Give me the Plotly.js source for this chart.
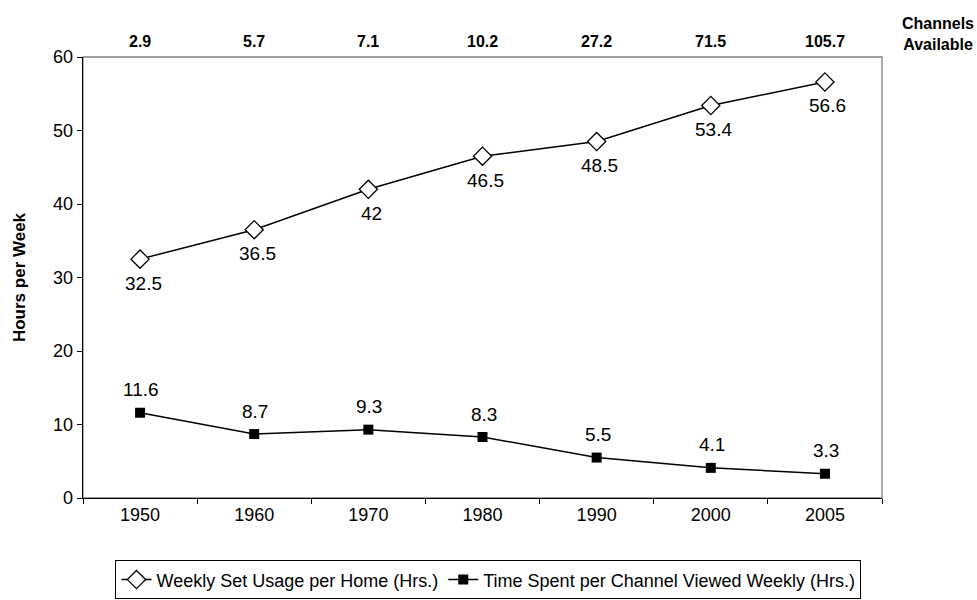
<!DOCTYPE html>
<html>
<head>
<meta charset="utf-8">
<script src="https://cdn.plot.ly/plotly-3.0.1.min.js"></script>
<style>html,body{margin:0;padding:0;background:#fff;}#chart{width:977px;height:600px;}</style>
</head>
<body>
<div id="chart"></div>
<script>
const years = ['1950', '1960', '1970', '1980', '1990', '2000', '2005'];
const setUsage = [32.5, 36.5, 42, 46.5, 48.5, 53.4, 56.6];
const perChannel = [11.6, 8.7, 9.3, 8.3, 5.5, 4.1, 3.3];
const channels = ['2.9', '5.7', '7.1', '10.2', '27.2', '71.5', '105.7'];

const font = 'Liberation Sans, Arial, sans-serif';
const labelSize = 19;

const traces = [
  {
    x: years, y: setUsage, name: 'Weekly Set Usage per Home (Hrs.)',
    type: 'scatter', mode: 'lines+markers',
    line: {color: '#000', width: 1.5},
    marker: {symbol: 'diamond', size: 14, color: '#fff', line: {color: '#000', width: 1.3}},
    cliponaxis: false
  },
  {
    x: years, y: perChannel, name: 'Time Spent per Channel Viewed Weekly (Hrs.)',
    type: 'scatter', mode: 'lines+markers',
    line: {color: '#000', width: 1.5},
    marker: {symbol: 'square', size: 10, color: '#000'},
    cliponaxis: false
  }
];

const annotations = [];
// data labels
setUsage.forEach((v, i) => annotations.push({
  x: i, y: v, xref: 'x', yref: 'y', yshift: -24, xshift: 3, showarrow: false,
  text: String(v), font: {family: font, size: labelSize, color: '#000'}
}));
perChannel.forEach((v, i) => annotations.push({
  x: i, y: v, xref: 'x', yref: 'y', yshift: 23, xshift: 1, showarrow: false,
  text: String(v), font: {family: font, size: labelSize, color: '#000'}
}));
// channels available
channels.forEach((c, i) => annotations.push({
  x: i, y: 1, xref: 'x', yref: 'paper', yanchor: 'bottom', xanchor: 'center',
  yshift: 5, text: '<b>' + c + '</b>', showarrow: false,
  font: {family: font, size: 16, color: '#000'}
}));
annotations.push({
  x: 1.0695, y: 1.0, xref: 'paper', yref: 'paper', xanchor: 'center', yanchor: 'bottom',
  yshift: 2, text: '<b>Channels<br>Available</b>', showarrow: false, align: 'center',
  font: {family: font, size: 16, color: '#000'}
});

const layout = {
  width: 977, height: 600,
  margin: {l: 83, r: 95, t: 57, b: 102},
  paper_bgcolor: '#fff', plot_bgcolor: '#fff',
  font: {family: font, color: '#000'},
  showlegend: true,
  legend: {
    orientation: 'h', xref: 'paper', yref: 'container',
    x: 0.5075, xanchor: 'center', y: 0.066, yanchor: 'top',
    bordercolor: '#000', borderwidth: 1, font: {family: font, size: 18, color: '#000'},
    traceorder: 'normal', itemwidth: 30
  },
  xaxis: {
    type: 'category', range: [-0.5, 6.5], fixedrange: true,
    showline: true, linecolor: '#000', linewidth: 1.3,
    ticks: 'outside', tickson: 'boundaries', ticklen: 5, tickcolor: '#000',
    showgrid: false, zeroline: false,
    tickfont: {family: font, size: 18, color: '#000'}
  },
  yaxis: {
    range: [0, 60], dtick: 10, fixedrange: true,
    showline: true, linecolor: '#000', linewidth: 1.3,
    ticks: 'outside', ticklen: 5, tickcolor: '#000',
    showgrid: false, zeroline: false,
    tickfont: {family: font, size: 18, color: '#000'},
    title: {text: '<b>Hours per Week</b>', font: {family: font, size: 17, color: '#000'}, standoff: 23}
  },
  shapes: [
    {type: 'rect', xref: 'paper', yref: 'paper', x0: 0, x1: 1, y0: 0, y1: 1,
     line: {color: '#808080', width: 1.3}, layer: 'below'}
  ],
  annotations: annotations
};

Plotly.newPlot('chart', traces, layout, {displayModeBar: false, staticPlot: true});
</script>
</body>
</html>
